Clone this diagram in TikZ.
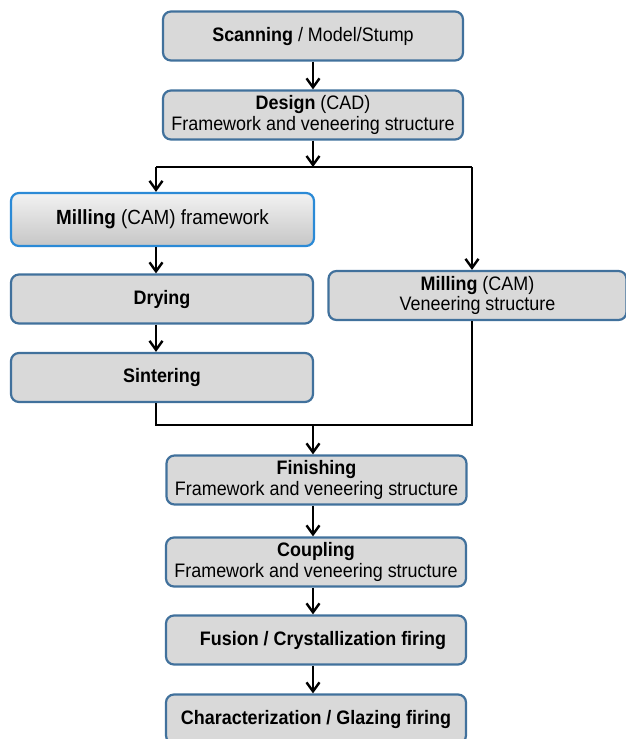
\documentclass[tikz,border=0pt]{standalone}
\usepackage{fontspec}
\setmainfont{Liberation Sans}[FakeStretch=0.92]
\usetikzlibrary{arrows.meta}
\definecolor{boxfill}{HTML}{D9D9D9}
\definecolor{boxline}{HTML}{41719C}
\definecolor{hiline}{HTML}{2B8AD6}
\definecolor{gradtop}{HTML}{F2F2F2}
\definecolor{gradbot}{HTML}{C6C6C6}
\begin{document}
\begin{tikzpicture}[x=1pt,y=-1pt,
  box/.style={draw=boxline, fill=boxfill, line width=2.2pt, rounded corners=8pt,
    align=center, font=\fontsize{19.5}{20.5}\selectfont, inner sep=0pt,
    minimum width=300pt, minimum height=49pt},
  conn/.style={line width=2.8pt, black},
  arr/.style={conn, -{Straight Barb[length=9pt,width=13pt,line width=2.4pt]}}
]
\useasboundingbox (0,0) rectangle (625,739);
\node[box] (scan) at (313,36) {\textbf{Scanning} / Model/Stump};
\node[box] (design) at (313,115) {\textbf{Design} (CAD)\\Framework and veneering structure};
\node[box, draw=hiline, top color=gradtop, bottom color=gradbot, minimum width=303pt, minimum height=53pt,
  font=\fontsize{20.5}{21.5}\selectfont] (millf) at (162.5,219.5) {\textbf{Milling} (CAM) framework};
\node[box, minimum width=302pt] (dry) at (162,299) {\textbf{Drying}};
\node[box, minimum width=302pt] (sint) at (162,377.5) {\textbf{Sintering}};
\node[box, minimum width=298pt] (millv) at (477.5,295.5) {\textbf{Milling} (CAM)\\Veneering structure};
\node[box] (fin) at (316.5,480) {\textbf{Finishing}\\Framework and veneering structure};
\node[box] (coup) at (316,562) {\textbf{Coupling}\\Framework and veneering structure};
\node[box] (fus) at (316,640) {\hspace*{14pt}\textbf{Fusion / Crystallization firing}};
\node[box] (char) at (316,719) {\textbf{Characterization / Glazing firing}};

\coordinate (split) at (313,167);
\coordinate (sl) at (156,167);
\coordinate (sr) at (472,167);
\coordinate (jl) at (156,425);
\coordinate (jr) at (472,425);
\coordinate (jm) at (313,425);

\draw[arr] (scan) -- (design);
\draw[arr] (design.south -| split) -- (split);
\draw[conn] (sl) -- (sr);
\draw[arr] (sl) -- (millf.north -| sl);
\draw[arr] (sr) -- (millv.north -| sr);
\draw[arr] (millf.south -| sl) -- (dry.north -| sl);
\draw[arr] (dry.south -| sl) -- (sint.north -| sl);
\draw[conn] (sint.south -| jl) -- (jl) -- (jr) -- (millv.south -| jr);
\draw[arr] (jm) -- (fin.north -| jm);
\draw[arr] (fin.south -| jm) -- (coup.north -| jm);
\draw[arr] (coup.south -| jm) -- (fus.north -| jm);
\draw[arr] (fus.south -| jm) -- (char.north -| jm);
\end{tikzpicture}
\end{document}
